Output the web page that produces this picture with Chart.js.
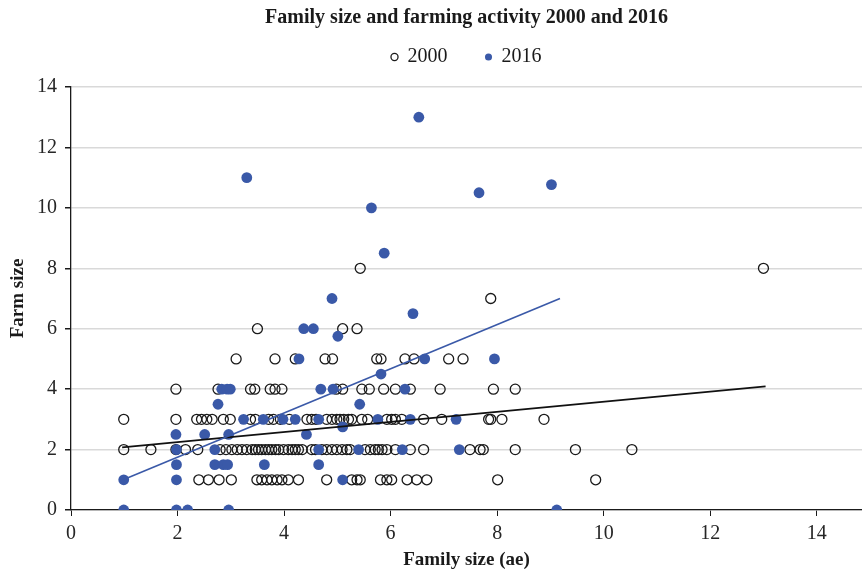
<!DOCTYPE html>
<html>
<head>
<meta charset="utf-8">
<script src="https://cdn.jsdelivr.net/npm/chart.js@4"></script>
<style>
  html, body { margin: 0; padding: 0; background: #fff; overflow: hidden; }
  #wrap { width: 862px; height: 571px; position: relative; }
</style>
</head>
<body>
<div id="wrap"><canvas id="farm"></canvas></div>
<script>
'use strict'

// 2000 survey, open circles (family size in ae, farm size)
const fam2000 = [
  5.43, 13.0,
  7.88,
  3.50, 5.10, 5.37,
  3.10, 3.83, 4.21, 4.77, 4.91, 5.74, 5.82, 6.27, 6.44, 7.09, 7.36,
  1.97, 2.76, 3.37, 3.45, 3.74, 3.83, 3.96, 4.98, 5.10, 5.46, 5.60, 5.87, 6.09, 6.37, 6.93, 7.93, 8.34,
  0.99, 1.97, 2.36, 2.45, 2.55, 2.65, 2.86, 2.99, 3.37, 3.46, 3.71, 3.80, 3.93, 4.10, 4.43, 4.52, 4.60,
  4.80, 4.90, 4.99, 5.05, 5.12, 5.21, 5.27, 5.46, 5.57, 5.93, 6.02, 6.09, 6.21, 6.62, 6.96, 7.84, 7.88, 8.09, 8.88,
  0.99, 1.50, 1.97, 2.15, 2.38, 2.80, 2.91, 3.02, 3.12, 3.21, 3.30, 3.40, 3.46, 3.52, 3.58, 3.65, 3.71,
  3.77, 3.84, 3.90, 3.99, 4.08, 4.15, 4.21, 4.27, 4.34, 4.52, 4.59, 4.71, 4.80, 4.90, 4.99, 5.09, 5.18,
  5.24, 5.52, 5.62, 5.71, 5.77, 5.84, 5.93, 6.09, 6.37, 6.62, 7.49, 7.68, 7.74, 8.34, 9.47, 10.53,
  2.40, 2.58, 2.78, 3.01, 3.49, 3.58, 3.68, 3.77, 3.87, 3.96, 4.08, 4.27, 4.80, 5.27, 5.37, 5.43, 5.81,
  5.93, 6.02, 6.31, 6.49, 6.68, 8.01, 9.85
]
const farm2000 = [
  8, 8,
  7,
  6, 6, 6,
  5, 5, 5, 5, 5, 5, 5, 5, 5, 5, 5,
  4, 4, 4, 4, 4, 4, 4, 4, 4, 4, 4, 4, 4, 4, 4, 4, 4,
  3, 3, 3, 3, 3, 3, 3, 3, 3, 3, 3, 3, 3, 3, 3, 3, 3,
  3, 3, 3, 3, 3, 3, 3, 3, 3, 3, 3, 3, 3, 3, 3, 3, 3, 3, 3,
  2, 2, 2, 2, 2, 2, 2, 2, 2, 2, 2, 2, 2, 2, 2, 2, 2,
  2, 2, 2, 2, 2, 2, 2, 2, 2, 2, 2, 2, 2, 2, 2, 2, 2,
  2, 2, 2, 2, 2, 2, 2, 2, 2, 2, 2, 2, 2, 2, 2, 2,
  1, 1, 1, 1, 1, 1, 1, 1, 1, 1, 1, 1, 1, 1, 1, 1, 1,
  1, 1, 1, 1, 1, 1, 1, 1
]

// 2016 survey, filled blue dots
const fam2016 = [
  6.53, 3.30, 9.02, 7.66, 5.64, 5.88, 4.90, 4.37, 4.55, 6.42, 5.01,
  4.28, 6.64, 7.95, 5.82, 2.76, 5.42,
  2.83, 2.93, 2.99, 4.69, 4.92, 6.27,
  3.24, 3.61, 3.98, 4.21, 4.65, 5.76, 6.37, 7.23,
  5.10,
  1.97, 2.51, 2.96, 4.42,
  1.98, 2.70, 4.65, 5.40, 6.22, 7.29,
  1.98, 2.70, 2.86, 2.94, 3.63, 4.65,
  0.99, 1.98, 5.10,
  0.99, 1.98, 2.19, 2.96, 9.12
]
const farm2016 = [
  13, 11, 10.77, 10.5, 10, 8.5, 7, 6, 6, 6.5, 5.75,
  5, 5, 5, 4.5, 3.5, 3.5,
  4, 4, 4, 4, 4, 4,
  3, 3, 3, 3, 3, 3, 3, 3,
  2.75,
  2.5, 2.5, 2.5, 2.5,
  2, 2, 2, 2, 2, 2,
  1.5, 1.5, 1.5, 1.5, 1.5, 1.5,
  1, 1, 1,
  0, 0, 0, 0, 0
]

// linear trend lines, end points
const trendFam2000 = [0.96, 13.04]
const trendFarm2000 = [2.07, 4.09]
const trendFam2016 = [0.99, 9.18]
const trendFarm2016 = [1.01, 7.0]

const xTicks = [0, 2, 4, 6, 8, 10, 12, 14]
const yTicks = [0, 2, 4, 6, 8, 10, 12, 14]

const toPoints = (xs, ys) => xs.map((x, i) => ({ x: x, y: ys[i] }))

const blue = '#3a59a8'
const serif = "'Liberation Serif', 'DejaVu Serif', serif"

const farm = document.getElementById('farm')

const farmChart = new Chart(farm, {
  type: 'scatter',
  data: {
    datasets: [{
      label: '2000',
      data: toPoints(fam2000, farm2000),
      xAxisID: 'x',
      yAxisID: 'y',
      backgroundColor: 'rgba(255,255,255,0)',
      borderColor: '#1a1a1a',
      borderWidth: 1.3,
      pointRadius: 5,
      order: 3
    }, {
      label: '2016',
      data: toPoints(fam2016, farm2016),
      xAxisID: 'x',
      yAxisID: 'y',
      backgroundColor: blue,
      borderColor: blue,
      borderWidth: 0,
      pointRadius: 5.4,
      order: 2
    }, {
      type: 'line',
      label: 'trend2000',
      data: toPoints(trendFam2000, trendFarm2000),
      xAxisID: 'x',
      yAxisID: 'y',
      borderColor: '#111',
      borderWidth: 1.8,
      pointRadius: 0,
      order: 1
    }, {
      type: 'line',
      label: 'trend2016',
      data: toPoints(trendFam2016, trendFarm2016),
      xAxisID: 'x',
      yAxisID: 'y',
      borderColor: blue,
      borderWidth: 1.6,
      pointRadius: 0,
      order: 0
    }]
  },
  options: {
    responsive: true,
    maintainAspectRatio: false,
    animation: false,
    layout: { padding: 0, autoPadding: false },
    plugins: {
      tooltip: { enabled: false },
      title: {
        display: true,
        fullSize: false,
        text: 'Family size and farming activity 2000 and 2016',
        color: '#1a1a1a',
        font: { family: serif, size: 20, weight: 'bold' },
        padding: { top: 6, bottom: -21 }
      },
      legend: {
        display: true,
        fullSize: false,
        position: 'top',
        labels: {
          color: '#1a1a1a',
          font: { family: serif, size: 20 },
          usePointStyle: true,
          boxWidth: 6,
          boxHeight: 5,
          padding: 38,
          filter: item => item.text === '2000' || item.text === '2016',
          sort: (a, b) => a.datasetIndex - b.datasetIndex
        }
      }
    },
    scales: {
      x: {
        type: 'linear',
        min: 0,
        max: 14.85,
        afterFit: scale => {
          scale.height = 61
          scale.paddingLeft = 0
          scale.paddingRight = 0
        },
        afterBuildTicks: scale => { scale.ticks = xTicks.map(v => ({ value: v })) },
        ticks: {
          stepSize: 2,
          includeBounds: false,
          color: '#262626',
          padding: 6,
          maxRotation: 0,
          font: { family: serif, size: 20 }
        },
        grid: {
          drawOnChartArea: false,
          drawTicks: true,
          tickLength: 6,
          tickColor: '#1a1a1a'
        },
        border: { color: '#1a1a1a', width: 1.3 },
        title: {
          display: true,
          text: 'Family size (ae)',
          color: '#1a1a1a',
          font: { family: serif, size: 19, weight: 'bold' },
          padding: { top: 0, bottom: 0 }
        }
      },
      y: {
        type: 'linear',
        min: 0,
        max: 14,
        afterFit: scale => { scale.width = 71 },
        afterBuildTicks: scale => { scale.ticks = yTicks.map(v => ({ value: v })) },
        ticks: {
          stepSize: 2,
          color: '#262626',
          padding: 8,
          font: { family: serif, size: 20 }
        },
        grid: {
          color: '#d9d9d9',
          lineWidth: 1.5,
          drawTicks: true,
          tickLength: 6,
          tickColor: '#1a1a1a'
        },
        border: { color: '#1a1a1a', width: 1.3 },
        title: {
          display: true,
          text: 'Farm size',
          color: '#1a1a1a',
          font: { family: serif, size: 19, weight: 'bold' },
          padding: { top: 6.6, bottom: 0 }
        }
      },
      // empty band between legend and plot
      gap: {
        type: 'linear',
        position: 'top',
        afterFit: scale => { scale.height = 10 },
        ticks: { display: false },
        grid: { display: false },
        border: { display: false }
      }
    }
  }
})
</script>
</body>
</html>
